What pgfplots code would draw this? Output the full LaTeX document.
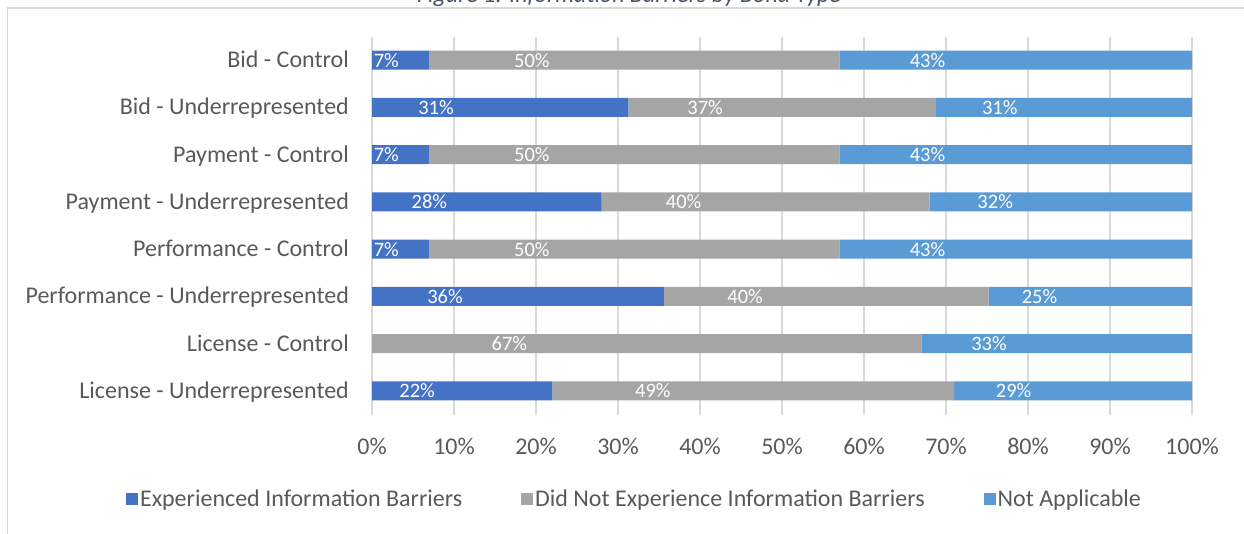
\documentclass[border=0pt]{standalone}
\usepackage{pgfplots}
\pgfplotsset{compat=1.18}
\usepackage{fontspec}
\setmainfont{Carlito}
\definecolor{cA}{HTML}{4472C4}
\definecolor{cB}{HTML}{A5A5A5}
\definecolor{cC}{HTML}{5B9BD5}
\definecolor{txt}{HTML}{595959}
\definecolor{gridc}{HTML}{D9D9D9}
\definecolor{ttl}{HTML}{44546A}
\begin{document}
\begin{tikzpicture}[x=1pt,y=1pt]
\draw[gridc, line width=1.5pt] (7.5,-10) -- (7.5,525) -- (1260,525);
\node[font=\fontsize{24}{28}\selectfont\itshape, text=ttl, anchor=base, inner sep=0pt] at (629,530) {Figure 1: Information Barriers by Bond Type};
\begin{axis}[
  at={(372pt,118.4pt)}, anchor=south west,
  scale only axis, width=820pt, height=378pt,
  xbar stacked, bar width=19pt,
  xmin=0, xmax=100, ymin=-0.5, ymax=7.5, y dir=reverse,
  axis line style={draw=none},
  major tick length=0pt,
  xmajorgrids, grid style={gridc, line width=1.5pt},
  xtick={0,10,...,100},
  xticklabels={0\%,10\%,20\%,30\%,40\%,50\%,60\%,70\%,80\%,90\%,100\%},
  ytick={0,...,7},
  yticklabels={Bid - Control, Bid - Underrepresented, Payment - Control, Payment - Underrepresented, Performance - Control, Performance - Underrepresented, License - Control, License - Underrepresented},
  tick label style={font=\fontsize{24}{28}\selectfont, text=txt},
  xticklabel style={anchor=base, yshift=-40pt, inner sep=0pt},
  yticklabel style={anchor=base east, xshift=-23pt, yshift=-7.5pt, inner sep=0pt},
  point meta=explicit symbolic,
  visualization depends on=rawx \as \rawx,
  nodes near coords,
  every node near coord/.append style={font=\fontsize{20.5}{24}\selectfont, text=white, anchor=center, inner sep=0pt, shift={(axis direction cs:-\rawx/4,0)}},
  legend columns=3,
  legend style={at={(0.3201,-0.2222)}, anchor=center, draw=none, fill=none,
    font=\fontsize{24}{28}\selectfont, text=txt,
    /tikz/every even column/.append style={column sep=57pt},
    nodes={inner sep=2pt}},
  legend cell align=left,
  legend image code/.code={\fill[#1] (0pt,-6pt) rectangle (12pt,6pt);},
]
\addplot[fill=cA, draw=none] coordinates {
 (7,0) [7\%] (31.25,1) [31\%] (7,2) [7\%] (28,3) [28\%] (7,4) [7\%] (35.6,5) [36\%] (0,6) [] (22,7) [22\%]};
\addplot[fill=cB, draw=none] coordinates {
 (50,0) [50\%] (37.5,1) [37\%] (50,2) [50\%] (40,3) [40\%] (50,4) [50\%] (39.6,5) [40\%] (67,6) [67\%] (49,7) [49\%]};
\addplot[fill=cC, draw=none] coordinates {
 (43,0) [43\%] (31.25,1) [31\%] (43,2) [43\%] (32,3) [32\%] (43,4) [43\%] (24.8,5) [25\%] (33,6) [33\%] (29,7) [29\%]};
\legend{Experienced Information Barriers, Did Not Experience Information Barriers, Not Applicable}
\end{axis}
\pgfresetboundingbox
\path[use as bounding box] (0,0) rectangle (1244,533);
\end{tikzpicture}
\end{document}
